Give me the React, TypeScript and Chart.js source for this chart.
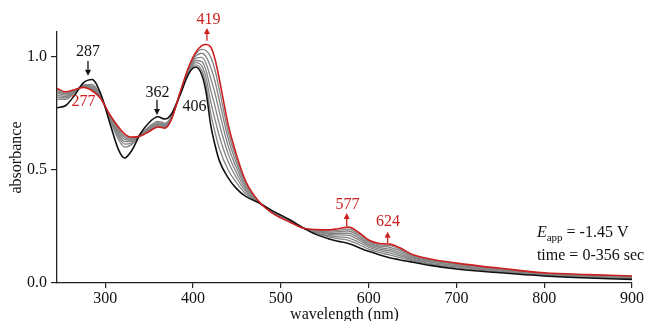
import React, { useEffect, useRef } from "react";
import { Chart, registerables } from "chart.js";
Chart.register(...registerables);

const wavelengths = [245,255,265,275,285,295,305,315,322,330,340,350,360,368,375,385,395,403,410,415,420,425,430,440,450,460,475,490,500,510,525,540,555,565,577,590,600,612,624,635,650,670,700,750,800,850,900];

const spectrumStart = [.775,.785,.83,.885,.90,.835,.71,.59,.553,.585,.66,.71,.735,.725,.745,.83,.925,.955,.92,.84,.70,.61,.54,.465,.415,.383,.355,.32,.30,.28,.245,.215,.195,.185,.175,.155,.14,.125,.112,.103,.092,.078,.062,.045,.031,.022,.016];
const spectrumEnd = [.86,.845,.855,.865,.85,.815,.745,.69,.66,.645,.65,.67,.69,.685,.72,.84,.955,1.02,1.05,1.055,1.045,.99,.90,.70,.56,.45,.36,.31,.288,.27,.243,.236,.235,.24,.247,.22,.19,.175,.172,.157,.126,.106,.088,.065,.045,.037,.031];
const spectrum1 = [.813,.812,.841,.876,.878,.826,.726,.635,.601,.612,.656,.692,.715,.707,.734,.832,.930,.965,.940,.872,.752,.667,.594,.500,.441,.395,.356,.318,.298,.278,.244,.219,.203,.196,.189,.168,.150,.135,.124,.113,.098,.083,.067,.049,.034,.025,.019];
const spectrum2 = [.823,.819,.844,.874,.872,.824,.730,.647,.614,.619,.654,.687,.709,.702,.731,.833,.934,.975,.959,.905,.804,.724,.648,.536,.462,.405,.357,.317,.296,.277,.244,.222,.209,.204,.200,.178,.158,.143,.133,.121,.102,.087,.071,.052,.036,.027,.021];
const spectrum3 = [.832,.825,.847,.872,.867,.822,.733,.657,.625,.625,.653,.683,.705,.698,.728,.835,.939,.984,.979,.937,.855,.781,.702,.571,.483,.414,.357,.315,.294,.275,.244,.226,.215,.213,.211,.188,.165,.150,.142,.129,.106,.092,.075,.055,.038,.030,.024];
const spectrum4 = [.840,.831,.849,.870,.862,.820,.737,.666,.634,.631,.652,.680,.701,.695,.726,.836,.943,.994,.998,.969,.907,.838,.756,.606,.504,.424,.358,.314,.292,.274,.244,.228,.220,.220,.220,.196,.172,.157,.150,.136,.111,.095,.078,.058,.040,.031,.025];
const spectrum5 = [.846,.835,.851,.868,.858,.818,.739,.674,.643,.635,.652,.676,.697,.691,.724,.837,.947,1.003,1.016,.999,.955,.891,.806,.639,.524,.433,.359,.312,.291,.272,.244,.231,.225,.227,.230,.204,.178,.163,.158,.144,.116,.099,.082,.060,.042,.033,.027];
const spectrum6 = [.853,.840,.853,.867,.854,.817,.742,.682,.651,.640,.651,.673,.694,.688,.722,.839,.951,1.012,1.033,1.027,1.000,.941,.853,.669,.542,.442,.359,.311,.289,.271,.244,.233,.230,.233,.238,.212,.184,.169,.165,.151,.121,.102,.085,.063,.043,.035,.029];

const greySpectra = [spectrum1, spectrum2, spectrum3, spectrum4, spectrum5, spectrum6];

const xTicks = [300, 400, 500, 600, 700, 800, 900];
const yTicks = [0, 0.5, 1.0];

const RED = "#cc1f1f";
const BLACK = "#111111";

// peak labels: text, wavelength, absorbance (text centre), colour
const peakLabels = [
  { text: "287", x: 280.3, y: 1.022, color: BLACK },
  { text: "362", x: 359.5, y: 0.841, color: BLACK },
  { text: "406", x: 401.6, y: 0.779, color: BLACK },
  { text: "419", x: 417.5, y: 1.164, color: RED },
  { text: "277", x: 275.2, y: 0.801, color: RED },
  { text: "577", x: 575.9, y: 0.345, color: RED },
  { text: "624", x: 622.0, y: 0.270, color: RED },
];
// arrows: wavelength, from absorbance, to absorbance (head at "to")
const peakArrows = [
  { x: 280.3, from: 0.982, to: 0.916, color: BLACK },
  { x: 358.9, from: 0.810, to: 0.743, color: BLACK },
  { x: 415.8, from: 1.071, to: 1.128, color: RED },
  { x: 575.0, from: 0.252, to: 0.310, color: RED },
  { x: 621.6, from: 0.177, to: 0.227, color: RED },
];

const FONT = '"Liberation Serif", "Times New Roman", serif';

const annotationPlugin = {
  id: "annotations",
  afterDraw(chart: any) {
    const { ctx, scales } = chart;
    const xs = scales.x;
    const ys = scales.y;
    ctx.save();
    ctx.font = `16px ${FONT}`;
    ctx.textAlign = "center";
    ctx.textBaseline = "middle";
    for (const l of peakLabels) {
      ctx.fillStyle = l.color;
      ctx.fillText(l.text, xs.getPixelForValue(l.x), ys.getPixelForValue(l.y));
    }
    for (const a of peakArrows) {
      const px = xs.getPixelForValue(a.x);
      const p0 = ys.getPixelForValue(a.from);
      const p1 = ys.getPixelForValue(a.to);
      const dir = p1 > p0 ? 1 : -1;
      const head = 6;
      ctx.strokeStyle = a.color;
      ctx.fillStyle = a.color;
      ctx.lineWidth = 1.3;
      ctx.beginPath();
      ctx.moveTo(px, p0);
      ctx.lineTo(px, p1 - dir * head);
      ctx.stroke();
      ctx.beginPath();
      ctx.moveTo(px, p1);
      ctx.lineTo(px - 3, p1 - dir * head);
      ctx.lineTo(px + 3, p1 - dir * head);
      ctx.closePath();
      ctx.fill();
    }
    // condition text
    const tx = xs.getPixelForValue(791.7);
    const ty1 = ys.getPixelForValue(0.226);
    const ty2 = ys.getPixelForValue(0.124);
    ctx.fillStyle = BLACK;
    ctx.textAlign = "left";
    ctx.textBaseline = "alphabetic";
    const base1 = ty1 + 5.5;
    ctx.font = `italic 16px ${FONT}`;
    ctx.fillText("E", tx, base1);
    let cx = tx + ctx.measureText("E").width;
    ctx.font = `11px ${FONT}`;
    ctx.fillText("app", cx, base1 + 4);
    cx += ctx.measureText("app").width;
    ctx.font = `16px ${FONT}`;
    ctx.fillText(" = -1.45 V", cx, base1);
    ctx.fillText("time = 0-356 sec", tx, ty2 + 5.5);
    // axis titles
    const ca = chart.chartArea;
    ctx.textAlign = "center";
    ctx.textBaseline = "middle";
    ctx.fillText("wavelength (nm)", (ca.left + ca.right) / 2, 315);
    ctx.save();
    ctx.translate(17, (ca.top + ca.bottom) / 2);
    ctx.rotate(-Math.PI / 2);
    ctx.fillText("absorbance", 0, 0);
    ctx.restore();
    ctx.restore();
  },
};

export default function App() {
  const ref = useRef<HTMLCanvasElement | null>(null);
  useEffect(() => {
    if (!ref.current) return;
    const datasets: any[] = [];
    greySpectra.forEach((s, i) => {
      datasets.push({
        label: `t${i + 1}`,
        data: wavelengths.map((w, j) => ({ x: w, y: s[j] })),
        borderColor: "#848484",
        borderWidth: 1.3,
        order: 3,
      });
    });
    datasets.push({
      label: "start",
      data: wavelengths.map((w, j) => ({ x: w, y: spectrumStart[j] })),
      borderColor: BLACK,
      borderWidth: 1.6,
      order: 2,
    });
    datasets.push({
      label: "end",
      data: wavelengths.map((w, j) => ({ x: w, y: spectrumEnd[j] })),
      borderColor: RED,
      borderWidth: 1.6,
      order: 1,
    });
    const tickFont = { family: FONT, size: 16 };
    const chart = new Chart(ref.current, {
      type: "line",
      data: { datasets },
      plugins: [annotationPlugin],
      options: {
        animation: false,
        responsive: false,
        devicePixelRatio: 1,
        layout: { padding: { left: 0, right: 19, top: 32, bottom: 0 } },
        elements: {
          point: { radius: 0 },
          line: { cubicInterpolationMode: "monotone", fill: false },
        },
        plugins: { legend: { display: false }, tooltip: { enabled: false } },
        scales: {
          x: {
            type: "linear",
            min: 245,
            max: 900,
            afterBuildTicks: (s: any) => {
              s.ticks = xTicks.map((v) => ({ value: v }));
            },
            afterFit: (s: any) => {
              s.height = 38;
            },
            ticks: {
              font: tickFont,
              color: BLACK,
              padding: 1,
              maxRotation: 0,
              autoSkip: false,
              callback: (v: any) => String(v),
            },
            grid: { drawOnChartArea: false, drawTicks: true, tickLength: 5, color: "#222", lineWidth: 1.2 },
            border: { display: true, color: "#222", width: 1.3 },
          },
          y: {
            type: "linear",
            min: 0,
            max: 1.11,
            afterBuildTicks: (s: any) => {
              s.ticks = yTicks.map((v) => ({ value: v }));
            },
            afterFit: (s: any) => {
              s.width = 57;
            },
            ticks: {
              font: tickFont,
              color: BLACK,
              padding: 4,
              autoSkip: false,
              callback: (v: any) => Number(v).toFixed(1),
            },
            grid: { drawOnChartArea: false, drawTicks: true, tickLength: 6, color: "#222", lineWidth: 1.2 },
            border: { display: true, color: "#222", width: 1.3 },
          },
        },
      } as any,
    });
    return () => chart.destroy();
  }, []);
  return (
    <div style={{ position: "fixed", left: 0, top: 0, width: 651, height: 321, background: "#fff" }}>
      <canvas ref={ref} width={651} height={321} style={{ display: "block" }} />
    </div>
  );
}
